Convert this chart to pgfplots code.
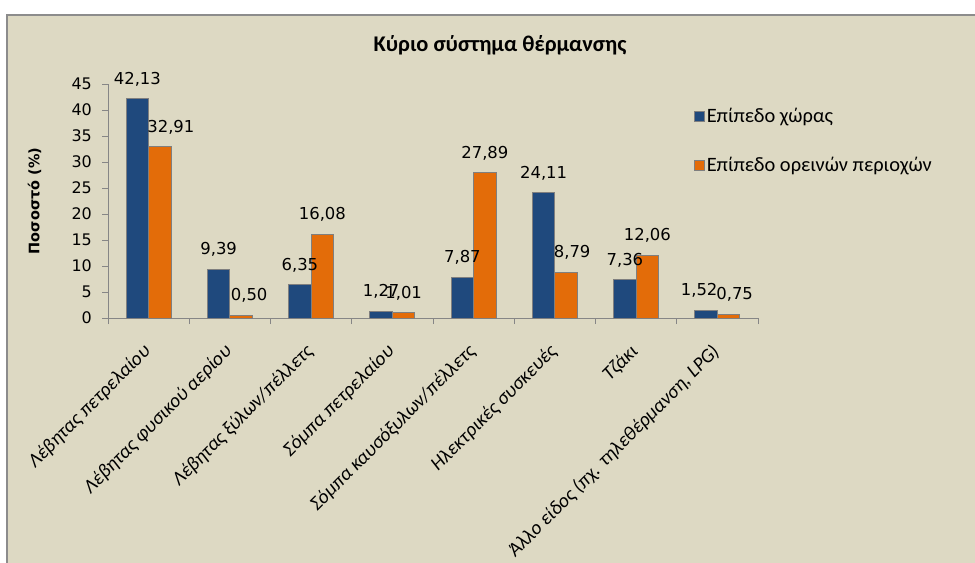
\documentclass[border=0pt]{standalone}
\usepackage{fontspec}
\setmainfont{Carlito}
\newfontfamily\dv{DejaVu Sans}
\usepackage{pgfplots}
\usepackage{pgfplotstable}
\pgfplotsset{compat=1.18}
\definecolor{bg}{HTML}{DDD9C3}
\definecolor{cblue}{HTML}{1F497D}
\definecolor{corange}{HTML}{E36C09}
\definecolor{axgray}{HTML}{868686}
\definecolor{bordergray}{HTML}{8C8C8C}
\definecolor{bargray}{HTML}{7F7F7F}

\pgfplotstableread{
x y dx
0 42.13 0
1 9.39 0
2 6.35 0
3 1.27 0
4 7.87 0
5 24.11 0
6 7.36 0
7 1.52 -7
}\country
\pgfplotstableread{
x y dx
0 32.91 11
1 0.50 8
2 16.08 0
3 1.01 0
4 27.89 0
5 8.79 6
6 12.06 0
7 0.75 6
}\mountain

\begin{document}
\begin{tikzpicture}
\useasboundingbox (0,0) rectangle (975bp,563bp);
\fill[white] (0,0) rectangle (975bp,563bp);
\fill[bg] (7bp,0) rectangle (975bp,547.5bp);
\draw[bordergray, line width=2bp] (7bp,0) -- (7bp,547.5bp) -- (975bp,547.5bp);
\node[anchor=base, font=\bfseries\fontsize{22.5}{22.5}\selectfont] at (500bp,511bp) {Κύριο σύστημα θέρμανσης};
\begin{axis}[
  at={(108bp,245bp)}, anchor=south west,
  scale only axis, width=650bp, height=234bp,
  xmin=-0.5, xmax=7.5, ymin=0, ymax=45,
  clip=false,
  axis x line*=bottom, axis y line*=left,
  axis line style={axgray, line width=1bp},
  tick style={axgray, line width=1bp},
  major tick length=6bp,
  tick align=outside,
  ytick={0,5,...,45},
  xtick={-0.5,0.5,...,7.5},
  x tick label as interval,
  xticklabels={Λέβητας πετρελαίου, Λέβητας φυσικού αερίου, Λέβητας ξύλων/πέλλετς, Σόμπα πετρελαίου, Σόμπα καυσόξυλων/πέλλετς, Ηλεκτρικές συσκευές, Τζάκι, {Άλλο είδος (πχ. τηλεθέρμανση, LPG)}},
  xticklabel style={rotate=45, anchor=north east, inner sep=0pt, xshift=-18bp, yshift=-8bp, font=\itshape\fontsize{19.7}{19.7}\selectfont},
  yticklabel style={font=\dv\fontsize{16}{16}\selectfont, anchor=east, inner sep=0pt, xshift=-10bp},
  /pgf/number format/assume math mode=true,
  ylabel={Ποσοστό (\%)},
  ylabel style={at={(axis description cs:-0.113,0.5)}, anchor=center, font=\dv\bfseries\fontsize{14.5}{14.5}\selectfont},
  ybar=0pt, bar width=22.5bp,
  nodes near coords={\pgfmathprintnumber[fixed,fixed zerofill,precision=2,use comma,assume math mode=true]{\pgfplotspointmeta}},
  visualization depends on={\thisrow{dx} \as \dx},
  every node near coord/.append style={font=\dv\fontsize{16.5}{16.5}\selectfont, text=black, anchor=south, inner sep=0pt, yshift=12bp, xshift=\dx*1bp},
  legend style={draw=none, fill=none, at={(axis description cs:0.9015,0.906)}, anchor=north west, font=\fontsize{20.5}{20.5}\selectfont, row sep=29bp, inner sep=0pt, cells={anchor=west}},
  legend image code/.code={\draw[#1, draw=bargray, line width=0.6bp] (0bp,-5bp) rectangle (10bp,5bp);},
]
\addplot[fill=cblue, draw=bargray, line width=1bp] table[x=x,y=y] {\country};
\addlegendentry{Επίπεδο χώρας}
\addplot[fill=corange, draw=bargray, line width=1bp] table[x=x,y=y] {\mountain};
\addlegendentry{Επίπεδο ορεινών περιοχών}
\end{axis}
\end{tikzpicture}
\end{document}
